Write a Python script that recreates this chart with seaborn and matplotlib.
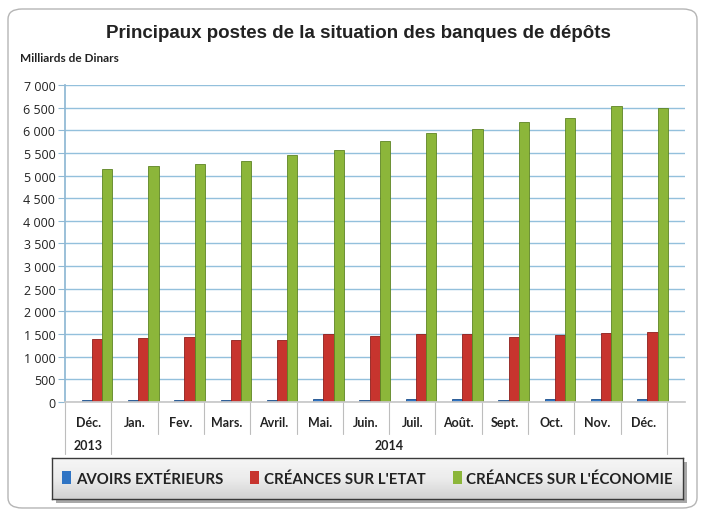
import numpy as np
import pandas as pd
import matplotlib
matplotlib.use("Agg")
import matplotlib.pyplot as plt
from matplotlib.patches import FancyBboxPatch, Patch, Rectangle
from matplotlib.ticker import FuncFormatter
import matplotlib.transforms as mtransforms
import seaborn as sns

# --- données (milliards de dinars) ---
mois = ["Déc.", "Jan.", "Fev.", "Mars.", "Avril.", "Mai.", "Juin.",
        "Juil.", "Août.", "Sept.", "Oct.", "Nov.", "Déc."]
annees = ["2013"] + ["2014"] * 12
series = ["AVOIRS EXTÉRIEURS", "CRÉANCES SUR L'ETAT", "CRÉANCES SUR L'ÉCONOMIE"]
avoirs_ext = [50, 52, 55, 52, 54, 57, 55, 56, 58, 55, 57, 60, 60]
creances_etat = [1395, 1410, 1430, 1370, 1375, 1505, 1465, 1505, 1505, 1445, 1480, 1520, 1535]
creances_eco = [5155, 5205, 5265, 5315, 5450, 5575, 5765, 5950, 6030, 6185, 6280, 6530, 6500]
couleurs = ["#2f74c4", "#c7342e", "#8cb63a"]
bords = ["#1d4f8c", "#8e1f1b", "#5e8424"]

cles = [f"{m} {a}" for m, a in zip(mois, annees)]
df = pd.DataFrame({
    "periode": cles * 3,
    "serie": np.repeat(series, len(cles)),
    "valeur": avoirs_ext + creances_etat + creances_eco,
})

sns.set_theme(style="white")
plt.rcParams["font.family"] = ["Lato", "DejaVu Sans"]

fig = plt.figure(figsize=(7.04, 5.10), dpi=100)
fig.patch.set_facecolor("white")

# cadre extérieur arrondi
cadre = FancyBboxPatch((8 / 704, 0.002), 689 / 704, 1 - 10 / 510 - 0.002,
                       boxstyle="round,pad=0,rounding_size=0.02",
                       transform=fig.transFigure, fill=False,
                       edgecolor="#b5b5b5", linewidth=1.0, zorder=-5)
fig.patches.append(cadre)

ax = fig.add_axes([65 / 704, 1 - 403 / 510, 620 / 704, 317 / 510])
sns.barplot(data=df, x="periode", y="valeur", hue="serie", order=cles,
            hue_order=series, palette=couleurs, width=0.66, dodge=True,
            saturation=1, legend=False, ax=ax)

# contours plus sombres
for i, cont in enumerate(ax.containers):
    for b in cont:
        b.set_edgecolor(bords[i])
        b.set_linewidth(0.6)

decal = 0.19
centres = np.arange(len(cles)) - decal
ax.set_xlim(-0.5 - decal, len(cles) - 0.5 - decal + 0.39)
ax.set_ylim(0, 7000)
ax.set_yticks(np.arange(0, 7001, 500))
ax.yaxis.set_major_formatter(FuncFormatter(lambda v, p: f"{int(v):,}".replace(",", " ")))
ax.tick_params(axis="y", labelsize=9, length=5, width=0.8, color="#8fb8d4",
               colors="#222222", pad=2, left=True)
for t in ax.get_yticklabels():
    t.set_fontfamily(["Open Sans", "DejaVu Sans"])
ax.grid(axis="y", color="#93c0dc", linewidth=1.0)
ax.set_axisbelow(True)
for s in ["top", "right"]:
    ax.spines[s].set_visible(False)
ax.spines["left"].set_color("#8fb8d4")
ax.spines["bottom"].set_color("#c8c8c8")
ax.set_xlabel("")
ax.set_ylabel("")
ax.set_xticks([])

# table des catégories sous l'axe
trans = mtransforms.blended_transform_factory(ax.transData, ax.transAxes)
h = 317
for i, c in enumerate(centres):
    ax.text(c, -20 / h, mois[i], transform=trans, ha="center", va="center",
            fontsize=9, fontweight="bold", color="#222222")
bords_x = np.arange(len(cles) + 1) - 0.5 - decal
for k, xb in enumerate(bords_x):
    bas = -52 / h if k in (0, 1, len(cles)) else -32 / h
    ax.plot([xb, xb], [0, bas], transform=trans, color="#bdbdbd",
            linewidth=0.8, clip_on=False)
ax.text(centres[0], -43 / h, "2013", transform=trans, ha="center", va="center",
        fontsize=9, fontweight="bold", color="#222222")
ax.text(centres[1:].mean(), -43 / h, "2014", transform=trans, ha="center",
        va="center", fontsize=9, fontweight="bold", color="#222222")

# titres
fig.text(358 / 704, 1 - 33 / 510, "Principaux postes de la situation des banques de dépôts",
         ha="center", va="center", fontsize=13.5, fontweight="bold",
         family=["Liberation Sans", "DejaVu Sans"], color="#222222")
fig.text(20 / 704, 1 - 58 / 510, "Milliards de Dinars", ha="left", va="center",
         fontsize=8.5, fontweight="bold", color="#222222")

# légende dans un cadre dégradé, avec ombre
ombre = Rectangle((56 / 704, 1 - 504 / 510), 631 / 704, 41 / 510,
                  transform=fig.transFigure, facecolor="#a8a8a8",
                  edgecolor="none", zorder=-2)
fig.patches.append(ombre)
lax = fig.add_axes([52 / 704, 1 - 500 / 510, 631 / 704, 41 / 510])
lax.set_zorder(5)
grad = np.linspace(0, 1, 64).reshape(-1, 1)
lax.imshow(grad, aspect="auto",
           cmap=sns.blend_palette(["#f6f6f6", "#ececec", "#d2d2d2"], as_cmap=True),
           extent=[0, 1, 0, 1], origin="upper")
lax.set_xticks([])
lax.set_yticks([])
for s in lax.spines.values():
    s.set_color("#3a3a3a")
    s.set_linewidth(1.0)
poignees = [Patch(facecolor=c, edgecolor="none") for c in couleurs]
lax.legend(poignees, series, loc="center", ncol=3, frameon=False,
           prop={"size": 10.8, "weight": "bold", "family": ["Lato", "DejaVu Sans"]},
           handlelength=0.6, handleheight=0.9, handletextpad=0.3,
           columnspacing=1.8, labelcolor="#222222")

fig.savefig("out.png", dpi=100, facecolor="white")
